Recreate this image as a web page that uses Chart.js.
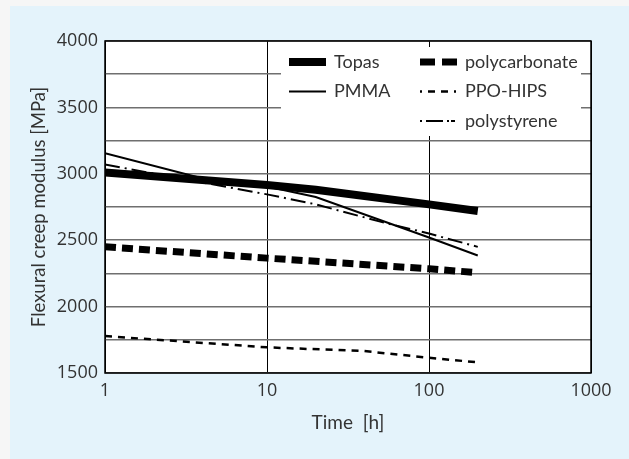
<!DOCTYPE html>
<html>
<head>
<meta charset="utf-8">
<script src="https://cdn.jsdelivr.net/npm/chart.js@4/dist/chart.umd.min.js"></script>
<style>
  html, body { margin: 0; padding: 0; background: #f6f6f6; }
  #wrap { width: 629px; height: 459px; }
</style>
</head>
<body>
<div id="wrap"><canvas id="creep-chart"></canvas></div>
<script>
// values (time in hours, modulus in MPa)
const seriesNames = ['Topas', 'PMMA', 'polystyrene', 'polycarbonate', 'PPO-HIPS']

const topasTime = [1, 10, 20, 100, 200]
const topasModulus = [3010, 2915, 2880, 2770, 2720]

const pmmaTime = [1, 5, 10, 20, 100, 200]
const pmmaModulus = [3155, 2935, 2905, 2825, 2520, 2385]

const polystyreneTime = [1, 10, 20, 50, 100, 200]
const polystyreneModulus = [3070, 2845, 2770, 2640, 2550, 2450]

const polycarbonateTime = [1, 10, 100, 200]
const polycarbonateModulus = [2450, 2365, 2285, 2255]

const ppoHipsTime = [1, 10, 40, 100, 200]
const ppoHipsModulus = [1778, 1693, 1665, 1615, 1580]

const xTicks = [1, 10, 100, 1000]

const FONT = 'Lato'
const TICK_FONT = 'Open Sans'
const TEXT = '#333'

function points(xs, ys) {
    return xs.map((x, i) => ({ x: x, y: ys[i] }))
}

// legend spots: [column x, row]
const legendSpots = {
    'Topas': [289, 0],
    'PMMA': [289, 1],
    'polycarbonate': [420, 0],
    'PPO-HIPS': [420, 1],
    'polystyrene': [420, 2]
}
const legendDash = {
    'polycarbonate': [15, 7],
    'PPO-HIPS': [2, 6, 7, 6, 7, 6],
    'polystyrene': [2, 4, 17, 4, 2]
}

const backdrop = {
    id: 'backdrop',
    beforeDraw(chart) {
        const ctx = chart.ctx
        const a = chart.chartArea
        ctx.save()
        ctx.fillStyle = '#f6f6f6'
        ctx.fillRect(0, 0, chart.width, chart.height)
        ctx.fillStyle = '#e4f3fb'
        ctx.fillRect(10, 6, chart.width - 10, chart.height - 6)
        ctx.fillStyle = '#fff'
        ctx.fillRect(a.left, a.top, a.right - a.left, a.bottom - a.top)
        ctx.restore()
    }
}

const boxLegend = {
    id: 'boxLegend',
    beforeDatasetsDraw(chart) {
        const ctx = chart.ctx
        ctx.save()
        ctx.fillStyle = '#fff'
        ctx.fillRect(281, 47, 300, 89)
        chart.data.datasets.forEach(ds => {
            const spot = legendSpots[ds.label]
            const y = 62 + spot[1] * 29.5
            ctx.strokeStyle = '#000'
            ctx.lineWidth = ds.borderWidth
            ctx.lineCap = 'butt'
            ctx.setLineDash(legendDash[ds.label] || [])
            ctx.beginPath()
            ctx.moveTo(spot[0], y)
            ctx.lineTo(spot[0] + 37, y)
            ctx.stroke()
            ctx.setLineDash([])
            ctx.fillStyle = TEXT
            ctx.font = '18px ' + FONT
            ctx.textBaseline = 'middle'
            ctx.fillText(ds.label, spot[0] + 45, y)
        })
        ctx.restore()
    }
}

const frame = {
    id: 'frame',
    afterDraw(chart) {
        const a = chart.chartArea
        const ctx = chart.ctx
        ctx.save()
        ctx.strokeStyle = '#000'
        ctx.lineWidth = 1.5
        ctx.strokeRect(a.left, a.top, a.right - a.left, a.bottom - a.top)
        ctx.restore()
    }
}

const baseLine = { fill: false, borderColor: '#000', backgroundColor: '#000', pointRadius: 0, tension: 0, borderCapStyle: 'butt' }

new Chart(document.querySelector('#creep-chart').getContext('2d'), {
    type: 'line',
    data: {
        datasets: [
            { ...baseLine, label: 'Topas', data: points(topasTime, topasModulus), borderWidth: 8 },
            { ...baseLine, label: 'PMMA', data: points(pmmaTime, pmmaModulus), borderWidth: 2 },
            { ...baseLine, label: 'polystyrene', data: points(polystyreneTime, polystyreneModulus), borderWidth: 2, borderDash: [15, 5, 2, 5] },
            { ...baseLine, label: 'polycarbonate', data: points(polycarbonateTime, polycarbonateModulus), borderWidth: 7, borderDash: [11, 6] },
            { ...baseLine, label: 'PPO-HIPS', data: points(ppoHipsTime, ppoHipsModulus), borderWidth: 2.5, borderDash: [7, 6] }
        ]
    },
    options: {
        responsive: true,
        maintainAspectRatio: false,
        animation: false,
        layout: { padding: { left: 0, top: 41, right: 38, bottom: 0 } },
        plugins: { legend: { display: false }, tooltip: { enabled: false } },
        scales: {
            x: {
                type: 'logarithmic',
                min: 1,
                max: 1000,
                afterBuildTicks: scale => { scale.ticks = xTicks.map(v => ({ value: v })) },
                afterFit: scale => { scale.height = 86 },
                grid: { color: '#000', lineWidth: 1, drawTicks: false },
                border: { display: false },
                ticks: {
                    padding: 7,
                    maxRotation: 0,
                    autoSkip: false,
                    color: TEXT,
                    font: { family: TICK_FONT, size: 18 },
                    callback: v => String(v)
                },
                title: {
                    display: true,
                    text: 'Time  [h]',
                    color: TEXT,
                    font: { family: FONT, size: 19 },
                    padding: { top: 0, bottom: 25 }
                }
            },
            y: {
                min: 1500,
                max: 4000,
                afterFit: scale => { scale.width = 105 },
                grid: { color: '#6f6f6f', lineWidth: 1.5, drawTicks: false },
                border: { display: false },
                ticks: {
                    stepSize: 250,
                    padding: 7,
                    color: TEXT,
                    font: { family: TICK_FONT, size: 18 },
                    callback: v => (v % 500 === 0 ? String(v) : '')
                },
                title: {
                    display: true,
                    text: 'Flexural creep modulus [MPa]',
                    color: TEXT,
                    font: { family: FONT, size: 18.5 },
                    padding: { top: 28, bottom: 0 }
                }
            }
        }
    },
    plugins: [backdrop, boxLegend, frame]
})
</script>
</body>
</html>
